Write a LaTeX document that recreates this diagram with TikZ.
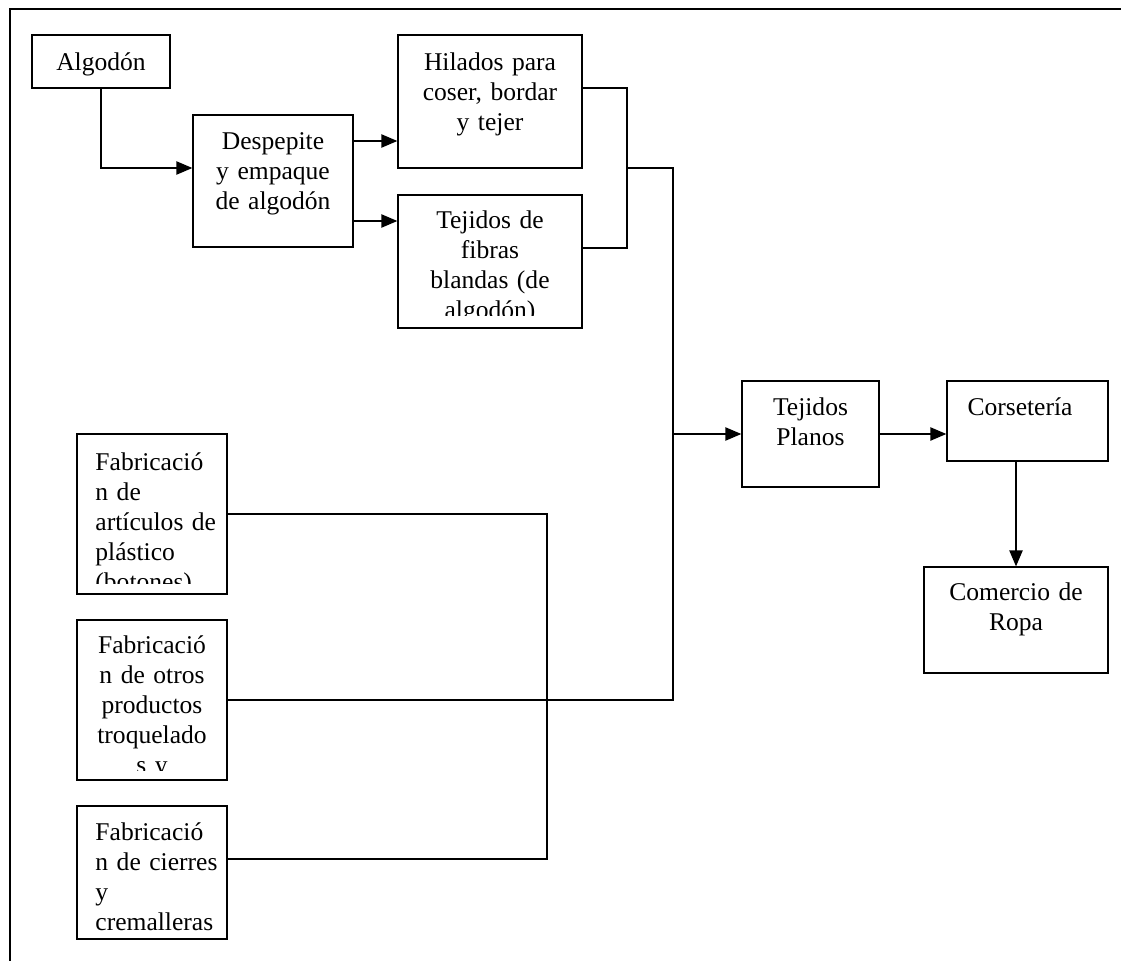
\documentclass[tikz,border=0pt]{standalone}
\usepackage{fontspec}
\setmainfont[WordSpace=0.8]{Liberation Serif}
\usetikzlibrary{fit,arrows.meta}
\begin{document}
\begin{tikzpicture}[x=0.45pt,y=-0.45pt,
  box/.style={draw,line width=0.6pt,inner sep=0pt,rectangle},
  txt/.style={inner sep=0pt,font=\fontsize{11.5}{13.5}\selectfont,text width=80pt,align=center,anchor=base},
  txtl/.style={inner sep=0pt,font=\fontsize{11.5}{13.5}\selectfont,text width=70pt,align=left,anchor=base west},
  wire/.style={line width=0.6pt},
  arr/.style={wire,-{Triangle[length=7.2pt,width=6pt]}},
  frame/.style={line width=1pt}]
\useasboundingbox (0,0) rectangle (1121,961);
% outer frame
\draw[frame] (1121,9) -- (10,9) -- (10,961);

% boxes
\node[box,fit={(32,35) (170,88)}] (alg) {};
\node[box,fit={(193,115) (353,247)}] (desp) {};
\node[box,fit={(398,35) (582,168)}] (hil) {};
\node[box,fit={(398,195) (582,328)}] (tfib) {};
\node[box,fit={(742,381) (879,487)}] (tp) {};
\node[box,fit={(947,381) (1108,461)}] (cors) {};
\node[box,fit={(924,567) (1108,673)}] (com) {};
\node[box,fit={(77,434) (227,594)}] (fab1) {};
\node[box,fit={(77,620) (227,780)}] (fab2) {};
\node[box,fit={(77,806) (227,939)}] (fab3) {};

% texts
\node[txt] (talg) at (101,70) {Algodón};
\node[txt] (tdesp) at (273,149) {Despepite\\y empaque\\de algodón};
\node[txt] (thil) at (490,70) {Hilados para\\coser, bordar\\y tejer};
\begin{scope}
  \clip (398,195) rectangle (582,315);
  \node[txt] (ttfib) at (490,228) {Tejidos de\\fibras\\blandas (de\\algodón)};
\end{scope}
\node[txt] (ttp) at (810.5,415) {Tejidos\\Planos};
\node[txt] (tcors) at (1020,415) {Corsetería};
\node[txt] (tcom) at (1016,600) {Comercio de\\Ropa};
\begin{scope}
  \clip (77,434) rectangle (227,583);
  \node[txtl] (tfab1) at (95,470) {Fabricació\\n de\\artículos de\\plástico\\(botones)};
\end{scope}
\begin{scope}
  \clip (77,620) rectangle (227,770);
  \node[txt] (tfab2) at (152,653) {Fabricació\\n de otros\\productos\\troquelado\\s y};
\end{scope}
\node[txtl] (tfab3) at (95,840) {Fabricació\\n de cierres\\y\\cremalleras};

% connectors
\coordinate (j1) at (627,168);
\coordinate (j2) at (673,168);
\coordinate (j3) at (673,700);
\coordinate (j4) at (547,686);

\draw[arr] (alg.south) |- (desp.west |- 0,168);
\draw[arr] (desp.east |- 0,141) -- (hil.west |- 0,141);
\draw[arr] (desp.east |- 0,221) -- (tfib.west |- 0,221);
\draw[wire] (hil.east |- 0,88) -| (j1) |- (tfib.east |- 0,248);
\draw[wire] (j1) -- (j2) -- (j3) -- (fab2.east |- j3);
\draw[arr] (j2 |- tp.west) -- (tp.west);
\draw[arr] (tp.east) -- (cors.west |- tp.east);
\draw[arr] (com.north |- cors.south) -- (com.north);
\draw[wire] (fab1.east) -| (j4) |- (fab3.east |- 0,859);
\end{tikzpicture}
\end{document}
